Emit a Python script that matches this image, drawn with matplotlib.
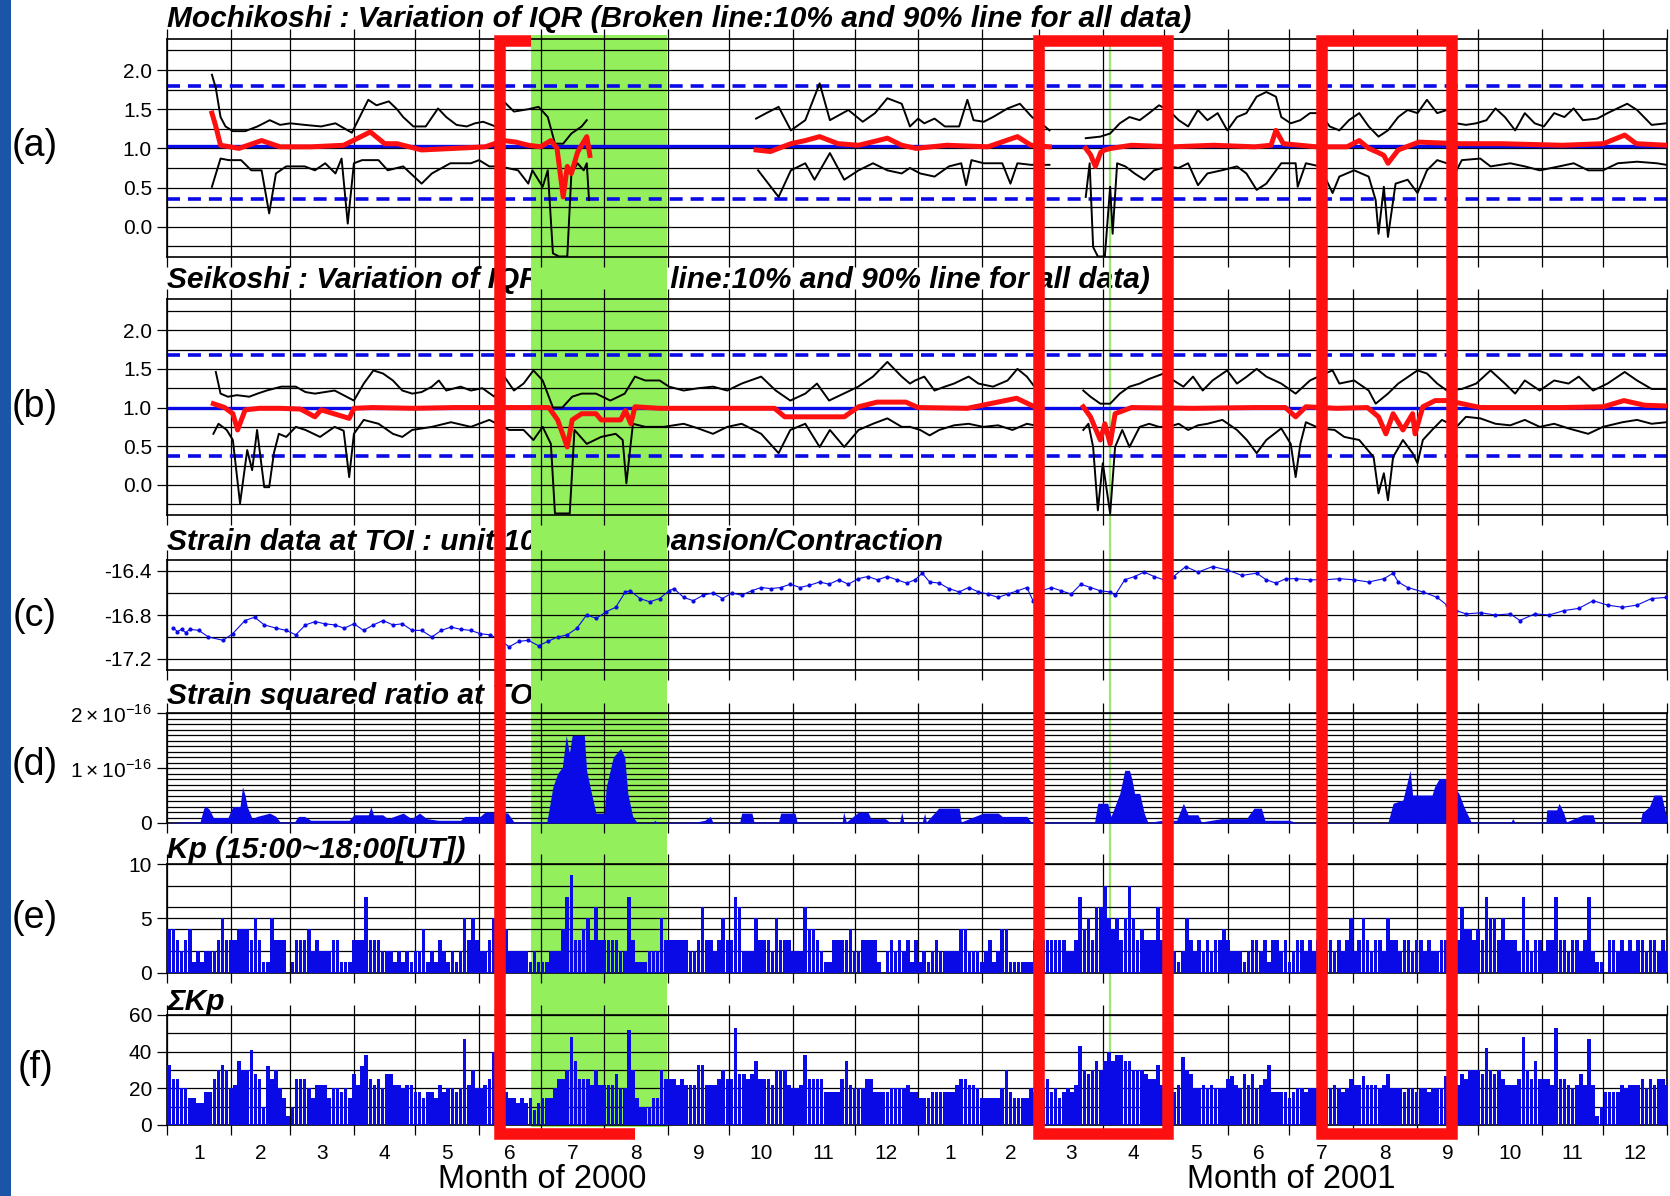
import numpy as np
import pandas as pd
import matplotlib
matplotlib.use("Agg")
import matplotlib.pyplot as plt
from matplotlib import transforms
from matplotlib.patches import Rectangle
from matplotlib.lines import Line2D

plt.rcParams["font.family"] = ["Liberation Sans", "DejaVu Sans"]
plt.rcParams["mathtext.fontset"] = "custom"
plt.rcParams["mathtext.rm"] = "Liberation Sans"

NAN = (np.nan, np.nan)

# ---- data: (day since 2000-01-01, value) ----
A_UPPER = [(21.8, 1.94), (23.7, 1.77), (26, 1.40), (28.4, 1.28), (32, 1.22), (38, 1.22), (44, 1.28), (50, 1.36),
           (55, 1.30), (60, 1.32), (67, 1.30), (75, 1.28), (82, 1.32), (90, 1.20), (98, 1.62), (102, 1.55),
           (108, 1.60), (112, 1.50), (115, 1.40), (120, 1.28), (126, 1.28), (132, 1.51), (136, 1.40), (141, 1.30),
           (146, 1.28), (150, 1.32), (154, 1.34), (160, 1.28), (164, 1.60), (169, 1.47), (176, 1.50), (181, 1.53),
           (185.5, 1.40), (189, 1.06), (193, 1.06), (197, 1.19), (202, 1.28), (204.5, 1.36), NAN,
           (287, 1.38), (292, 1.45), (298, 1.53), (304, 1.23), (311, 1.36), (318, 1.83), (323, 1.36), (332, 1.49),
           (339, 1.34), (345, 1.45), (351, 1.64), (358, 1.57), (362, 1.28), (366, 1.38), (369, 1.32), (374, 1.38),
           (379, 1.28), (386, 1.28), (390, 1.62), (393, 1.36), (398, 1.34), (402.5, 1.40), (409.6, 1.51),
           (415.6, 1.57), (421.5, 1.40), (426, 1.32), (430, 1.23), NAN,
           (447.7, 1.13), (454.8, 1.15), (459.6, 1.19), (464.3, 1.32), (469, 1.40), (474, 1.36), (478.6, 1.45),
           (483.4, 1.55), (488, 1.49), (493, 1.36), (497.6, 1.28), (502.4, 1.49), (507, 1.36), (512, 1.45),
           (516.7, 1.23), (521.4, 1.40), (526, 1.45), (531, 1.66), (535.7, 1.72), (540.4, 1.66), (543, 1.40),
           (547.6, 1.32), (552.3, 1.36), (557, 1.45), (561.8, 1.45), (566.6, 1.28), (571.3, 1.23), (576, 1.36),
           (581, 1.45), (585.6, 1.28), (590.4, 1.15), (595, 1.23), (600, 1.40), (604.6, 1.49), (609.4, 1.45),
           (614, 1.62), (619, 1.45), (623.7, 1.49), (628.4, 1.32), (633, 1.30), (638, 1.32), (643, 1.36),
           (647.4, 1.51), (652, 1.40), (657, 1.23), (661.7, 1.45), (666.5, 1.32), (671, 1.28), (676, 1.45),
           (681, 1.40), (685.5, 1.51), (690, 1.36), (697, 1.38), (702, 1.45), (711.6, 1.57), (716.4, 1.49),
           (723.5, 1.30), (730.7, 1.32)]
A_MID = [(21.8, 1.45), (23.5, 1.30), (26, 1.04), (35, 1.00), (46, 1.10), (55, 1.02), (70, 1.02), (86, 1.04),
         (99, 1.21), (106, 1.06), (112, 1.06), (124, 0.98), (140, 1.00), (155, 1.02), (164, 1.10), (170, 1.08),
         (176, 1.04), (182, 1.02), (187, 1.10), (190, 1.00), (193, 0.38), (195, 0.77), (197, 0.68), (200, 0.95),
         (202, 1.04), (204.5, 1.15), (206, 0.91), NAN,
         (287, 0.98), (294, 0.96), (304, 1.06), (311, 1.10), (318, 1.15), (327, 1.06), (337, 1.04), (351, 1.13),
         (358, 1.04), (365, 1.00), (380, 1.04), (400, 1.02), (414.4, 1.15), (421, 1.04), (430, 1.02), NAN,
         (447.7, 1.00), (450, 0.92), (452.4, 0.77), (455, 0.95), (457, 0.98), (460, 1.00), (470, 1.04), (490, 1.02),
         (510, 1.04), (530, 1.02), (538, 1.04), (540.4, 1.23), (544, 1.06), (560, 1.02), (575, 1.02), (581, 1.10),
         (585.6, 1.00), (590, 0.95), (593, 0.91), (595, 0.81), (600, 0.98), (610, 1.08), (630, 1.06), (650, 1.06),
         (680, 1.04), (700, 1.06), (710.4, 1.17), (716, 1.06), (730.7, 1.04)]
A_LOWER = [(21.8, 0.51), (26, 0.87), (30, 0.85), (36, 0.85), (41, 0.72), (46, 0.72), (49.7, 0.17), (53, 0.68),
           (58, 0.77), (63, 0.77), (67, 0.77), (72, 0.72), (77, 0.81), (82, 0.68), (85, 0.87), (88, 0.04),
           (91, 0.81), (95, 0.85), (100, 0.85), (103, 0.85), (107.5, 0.72), (115, 0.77), (124, 0.55), (129, 0.68),
           (138, 0.81), (148, 0.81), (152, 0.85), (157, 0.77), (162, 0.77), (171, 0.72), (176, 0.55), (178, 0.72),
           (183, 0.51), (185.5, 0.72), (188, -0.34), (191, -0.38), (195, -0.38), (197, 0.68), (200, 0.81),
           (203, 0.72), (204.5, 0.81), (205.6, 0.34), NAN,
           (288, 0.72), (293, 0.55), (298, 0.38), (304, 0.72), (311, 0.81), (315.5, 0.60), (323, 0.94), (330, 0.60),
           (337, 0.72), (344, 0.81), (351, 0.72), (358, 0.68), (362, 0.75), (367, 0.68), (374, 0.64), (381, 0.77),
           (387, 0.81), (389.4, 0.53), (392, 0.85), (398, 0.81), (407, 0.81), (411, 0.55), (414.4, 0.81),
           (421, 0.79), (430, 0.79), NAN,
           (447.7, 0.38), (449.6, 0.81), (451.3, -0.26), (453.6, -0.38), (457, -0.38), (459.6, 0.51), (460.8, -0.09),
           (463, 0.81), (467, 0.77), (471.5, 0.68), (476.2, 0.60), (481, 0.72), (488, 0.77), (493, 0.75),
           (497.6, 0.81), (502.4, 0.53), (507, 0.68), (514, 0.72), (521.4, 0.77), (526, 0.68), (531, 0.47),
           (535.7, 0.55), (543, 0.81), (550, 0.81), (551, 0.51), (555, 0.81), (561.8, 0.77), (568, 0.43),
           (571.3, 0.64), (578.5, 0.72), (585.6, 0.64), (589, 0.34), (590.4, -0.09), (593, 0.51), (595, -0.13),
           (598.7, 0.55), (604.6, 0.60), (609.4, 0.43), (614, 0.72), (619, 0.85), (623.7, 0.81), (628.4, 0.72),
           (631, 0.85), (640, 0.87), (645, 0.77), (654.6, 0.81), (661.7, 0.77), (669, 0.72), (678.4, 0.77),
           (685.5, 0.81), (692.6, 0.72), (699.8, 0.72), (707, 0.81), (716.4, 0.83), (726, 0.81), (730.7, 0.79)]
A_P90, A_P10, A_MEAN = 1.80, 0.35, 1.03

B_UPPER = [(23.7, 1.46), (26, 1.18), (29.6, 1.14), (34, 1.16), (40, 1.14), (44, 1.18), (48.5, 1.22), (55.6, 1.27),
           (62.7, 1.27), (67.4, 1.20), (72, 1.18), (81.6, 1.22), (91, 1.09), (95.8, 1.31), (100.5, 1.48),
           (105.2, 1.44), (110, 1.35), (114.6, 1.22), (119.4, 1.18), (124, 1.20), (129, 1.27), (132.4, 1.35),
           (136, 1.22), (143, 1.27), (148, 1.22), (153.6, 1.25), (159.5, 1.14), (164.3, 1.40), (169, 1.22),
           (173.7, 1.31), (178.5, 1.48), (183, 1.35), (188, 1.00), (192.6, 1.00), (197.4, 1.14), (202, 1.18),
           (209, 1.18), (216, 1.09), (223, 1.18), (228, 1.40), (233, 1.35), (240, 1.35), (244.6, 1.27),
           (251.7, 1.22), (258.8, 1.25), (266, 1.27), (273, 1.22), (280, 1.31), (289.5, 1.40), (296.6, 1.22),
           (303.7, 1.09), (311, 1.18), (316.7, 1.31), (322.6, 1.09), (329.7, 1.18), (336.8, 1.27), (344, 1.40),
           (351, 1.59), (358, 1.40), (362, 1.31), (364.5, 1.35), (369, 1.40), (374, 1.22), (379, 1.27),
           (383.5, 1.31), (390.6, 1.40), (395.4, 1.31), (402.5, 1.27), (409.6, 1.35), (414.4, 1.50), (419, 1.40),
           (422.7, 1.27), NAN,
           (446.5, 1.22), (450, 1.14), (454.8, 1.05), (459.6, 1.05), (464.3, 1.18), (469, 1.27), (474, 1.31),
           (478.6, 1.37), (485.7, 1.44), (490.5, 1.35), (495.3, 1.27), (500, 1.40), (504.7, 1.22), (509.5, 1.35),
           (516.6, 1.48), (521.4, 1.31), (526.2, 1.40), (531, 1.50), (535.7, 1.40), (543, 1.31), (550, 1.18),
           (557, 1.35), (564.2, 1.44), (568, 1.48), (571.3, 1.31), (578.5, 1.35), (585.6, 1.22), (589, 1.05),
           (595, 1.18), (600, 1.31), (609.4, 1.48), (614, 1.44), (619, 1.31), (623.7, 1.22), (631, 1.24),
           (638, 1.31), (645, 1.48), (652, 1.31), (657, 1.18), (661.7, 1.35), (669, 1.22), (676, 1.35),
           (683, 1.31), (688, 1.40), (695, 1.22), (702, 1.31), (710.4, 1.46), (716.4, 1.35), (723.5, 1.24),
           (730.7, 1.24)]
B_MID = [(22.5, 1.05), (28, 1.00), (32, 0.92), (34.3, 0.71), (38, 0.97), (45, 0.99), (55, 0.99), (65, 0.98),
         (72, 0.88), (75, 0.97), (88.7, 0.86), (91, 0.99), (100, 1.00), (120, 0.99), (140, 1.00), (160, 1.00),
         (180, 1.00), (186, 1.00), (190.3, 0.84), (195, 0.49), (197.4, 0.84), (202, 0.92), (209, 0.92),
         (211.5, 0.84), (221, 0.84), (223.3, 0.96), (226, 0.79), (228, 1.01), (240, 0.99), (260, 0.99),
         (280, 0.99), (296, 0.99), (301, 0.88), (315, 0.88), (330, 0.88), (337, 1.01), (346, 1.07), (360, 1.07),
         (366, 1.00), (390, 0.99), (414, 1.12), (422.7, 1.01), NAN,
         (446.5, 1.01), (450, 0.88), (454.8, 0.58), (457, 0.79), (459.6, 0.53), (462, 0.92), (470, 1.00),
         (500, 0.99), (530, 1.00), (545, 1.00), (550, 0.88), (555, 1.01), (570, 0.99), (585, 1.00), (590.4, 0.88),
         (594, 0.66), (597.5, 0.92), (602.3, 0.71), (607, 0.92), (608.2, 0.66), (612, 1.01), (618, 1.09),
         (624, 1.09), (640, 1.00), (680, 1.00), (700, 1.01), (710, 1.09), (720, 1.03), (730.7, 1.02)]
B_LOWER = [(22.5, 0.66), (25, 0.79), (29, 0.71), (32, 0.58), (35.5, -0.24), (39, 0.45), (41.4, 0.19), (43.8, 0.71),
           (47.3, -0.03), (49.7, -0.03), (52, 0.41), (54.4, 0.66), (58, 0.62), (62.7, 0.75), (67.4, 0.71),
           (74.5, 0.62), (81.6, 0.75), (86, 0.70), (88.7, 0.10), (91, 0.66), (95.8, 0.84), (103, 0.79), (110, 0.66),
           (114.6, 0.62), (119.4, 0.71), (129, 0.75), (138.3, 0.81), (148, 0.75), (157, 0.84), (166.6, 0.71),
           (173.7, 0.71), (178.5, 0.58), (183, 0.75), (187, 0.53), (189, -0.37), (196.2, -0.37), (198.5, 0.71),
           (204.5, 0.53), (211.5, 0.62), (218.6, 0.66), (222, 0.58), (223.8, 0.02), (227, 0.79), (233, 0.75),
           (242, 0.75), (251.7, 0.79), (258.8, 0.73), (266, 0.66), (273, 0.75), (280, 0.79), (289.5, 0.66),
           (298, 0.41), (303.7, 0.71), (311, 0.79), (318, 0.49), (323, 0.71), (330, 0.49), (337, 0.71), (344, 0.79),
           (351, 0.86), (358, 0.75), (362, 0.75), (367, 0.71), (371.6, 0.64), (376.3, 0.71), (383.5, 0.77),
           (390.6, 0.79), (397.7, 0.75), (405, 0.77), (412, 0.71), (419, 0.79), (422.7, 0.77), NAN,
           (446.5, 0.71), (449, 0.79), (451.3, 0.49), (453.6, -0.33), (456, 0.28), (459.6, -0.37), (462, 0.49),
           (465.5, 0.71), (469, 0.49), (474, 0.75), (478.6, 0.79), (483.4, 0.75), (488, 0.75), (493, 0.79),
           (497.6, 0.71), (502.4, 0.77), (507, 0.79), (514.3, 0.84), (521.4, 0.71), (526.2, 0.58), (531, 0.41),
           (535.7, 0.58), (543, 0.73), (547.6, 0.53), (550, 0.10), (552.3, 0.53), (555, 0.81), (561.8, 0.73),
           (569, 0.71), (573.7, 0.62), (581, 0.58), (588, 0.36), (590.4, -0.11), (593, 0.15), (595, -0.20),
           (597.5, 0.36), (602.3, 0.58), (607, 0.41), (609.4, 0.28), (612, 0.58), (616.5, 0.71), (621.3, 0.84),
           (628.4, 0.75), (633, 0.88), (640, 0.86), (647.4, 0.79), (654.6, 0.77), (661.7, 0.84), (669, 0.75),
           (676, 0.79), (683, 0.73), (692.6, 0.66), (699.8, 0.75), (709.3, 0.81), (716.4, 0.84), (723.5, 0.79),
           (730.7, 0.81)]
B_P90, B_P10, B_MEAN = 1.68, 0.37, 1.00

STRAIN = [(3, -16.92), (5, -16.95), (7, -16.93), (9, -16.96), (11, -16.93), (15.4, -16.94), (20.1, -17.0),
          (27.2, -17.03), (31.9, -16.97), (37.9, -16.85), (42.6, -16.82), (47.3, -16.89), (53.2, -16.92),
          (58, -16.94), (62.7, -16.98), (67.4, -16.89), (72.1, -16.86), (76.8, -16.88), (81.6, -16.89),
          (86.3, -16.92), (91, -16.88), (95.7, -16.94), (100.5, -16.89), (105.2, -16.85), (110, -16.89),
          (114.6, -16.88), (119.4, -16.94), (124, -16.94), (129, -17.0), (133.6, -16.94), (138.3, -16.91),
          (143, -16.93), (148, -16.94), (152.5, -16.97), (157.2, -16.98), (162, -17.02), (166.6, -17.09),
          (171.4, -17.04), (176, -17.03), (181, -17.08), (185.5, -17.04), (190.3, -17.0), (195, -16.98),
          (199.7, -16.92), (204.4, -16.8), (209.2, -16.83), (214, -16.77), (218.6, -16.73), (223.3, -16.59),
          (225.7, -16.58), (230.4, -16.65), (235.2, -16.68), (240, -16.65), (244.6, -16.58), (247, -16.56),
          (251.7, -16.64), (256.4, -16.67), (261.2, -16.62), (266, -16.6), (270.6, -16.65), (275.3, -16.6),
          (280, -16.62), (284.8, -16.58), (289.5, -16.55), (294.2, -16.56), (299, -16.55), (303.7, -16.52),
          (308.4, -16.55), (313, -16.53), (318, -16.5), (322.6, -16.52), (327.3, -16.48), (332, -16.52),
          (336.8, -16.47), (341.5, -16.45), (346.2, -16.48), (351, -16.45), (355.7, -16.48), (360.4, -16.51),
          (364.5, -16.48), (368, -16.42), (371.6, -16.5), (376.3, -16.51), (381, -16.56), (386, -16.59),
          (390.6, -16.55), (395.4, -16.59), (400, -16.61), (405, -16.64), (409.6, -16.61), (414.4, -16.58),
          (419, -16.55), (422, -16.67), (426.3, -16.58), (431, -16.55), (435.8, -16.58), (440.6, -16.61),
          (445.3, -16.52), (450, -16.55), (454.8, -16.58), (459.6, -16.59), (462, -16.62), (466.7, -16.48),
          (471.5, -16.45), (476.2, -16.41), (481, -16.45), (485.7, -16.48), (490.5, -16.45), (496.4, -16.36),
          (502.4, -16.41), (509.5, -16.36), (516.6, -16.39), (523.8, -16.44), (531, -16.42), (535.7, -16.48),
          (540.4, -16.51), (545.2, -16.47), (550, -16.47), (557, -16.48), (564.2, -16.48), (571.3, -16.47),
          (578.5, -16.48), (585.6, -16.5), (593, -16.47), (597.5, -16.42), (600, -16.5), (604.6, -16.55),
          (612, -16.59), (619, -16.64), (623.7, -16.71), (628.4, -16.76), (633, -16.79), (640.3, -16.78),
          (647.4, -16.8), (654.6, -16.79), (659.3, -16.85), (666.5, -16.79), (673.6, -16.8), (680.7, -16.76),
          (688, -16.74), (695, -16.67), (702, -16.71), (709.3, -16.73), (716.4, -16.71), (723.5, -16.65),
          (730.7, -16.64)]

# strain squared ratio, unit 1e-16
STRAIN_SQ = [(0, 0), (8, 0.02), (16, 0.02), (17.8, 0.27), (19, 0.3), (20.5, 0.25), (22.5, 0.1), (29.6, 0.1),
             (32, 0.3), (35.5, 0.3), (36.7, 0.66), (38, 0.5), (39, 0.3), (41.4, 0.08), (43.8, 0.12), (50, 0.18),
             (53, 0.12), (55, 0.02), (62, 0.02), (64, 0.12), (67, 0.12), (70, 0.05), (88.7, 0.05), (91, 0.15),
             (98, 0.15), (99.3, 0.3), (100.5, 0.15), (105, 0.15), (107.6, 0.08), (115, 0.18), (119, 0.08),
             (123, 0.18), (126.5, 0.08), (132, 0.05), (143, 0.05), (145, 0.12), (152.5, 0.12), (155, 0.2),
             (159.5, 0.2), (160.7, 0.39), (162, 0.2), (166, 0.18), (169, 0.02), (185, 0.02), (185.5, 0.12),
             (188, 0.66), (190.3, 0.9), (192.6, 1.02), (194.5, 1.6), (196, 1.27), (197.4, 1.6), (203.3, 1.6),
             (204.4, 0.96), (206.8, 0.54), (209, 0.18), (213, 0.18), (214, 0.66), (217.4, 1.2), (221, 1.36),
             (223, 1.2), (224.5, 0.54), (226.9, 0.12), (229, 0.01), (237, 0.01), (237.5, 0.05), (239, 0.01),
             (258, 0.02), (262, 0.05), (264.7, 0.12), (266, 0.01), (279, 0.01), (280, 0.18), (285, 0.18),
             (286, 0.02), (298, 0.02), (299, 0.18), (306, 0.18), (307, 0.02), (329, 0.02), (329.7, 0.2), (331, 0.02),
             (337, 0.2), (341.5, 0.2), (343, 0.08), (350, 0.08), (352, 0.02), (357, 0.02), (358, 0.2), (359, 0.02),
             (368, 0.02), (369.2, 0.18), (370, 0.02), (376, 0.27), (386, 0.27), (387, 0.02), (397.7, 0.18),
             (405, 0.18), (407, 0.12), (419, 0.12), (421, 0.02), (452, 0.02), (453.6, 0.36), (458.4, 0.36),
             (460, 0.12), (464.3, 0.54), (466.7, 0.96), (469, 0.96), (470.3, 0.78), (471.5, 0.54), (474, 0.54),
             (476.2, 0.18), (478, 0.01), (485, 0.05), (492, 0.05), (495.3, 0.36), (497.6, 0.15), (502.4, 0.15),
             (504, 0.02), (514, 0.08), (526, 0.08), (529.7, 0.27), (533.3, 0.27), (535, 0.05), (547, 0.05),
             (550, 0.01), (595, 0.01), (597.5, 0.36), (602.3, 0.42), (605.8, 0.96), (607, 0.51), (616.5, 0.51),
             (617.7, 0.66), (620, 0.81), (624, 0.81), (625, 0.96), (627.2, 0.66), (629.6, 0.54), (632, 0.3),
             (635.5, 0.02), (655, 0.02), (655.8, 0.08), (657, 0.01), (672, 0.02), (672.4, 0.24), (677.2, 0.24),
             (678.4, 0.36), (680.7, 0.18), (682, 0.02), (690.2, 0.15), (695, 0.15), (696, 0.01), (718, 0.01),
             (718.8, 0.18), (722.4, 0.3), (724.7, 0.51), (728.3, 0.51), (730.7, 0.12)]

# Kp and sum of Kp, two-day bins from 2000-01-01
KP = [4, 4, 3, 2, 3, 4, 1, 2, 1, 2, 2, 2, 3, 5, 3, 3,
      3, 4, 4, 4, 3, 5, 3, 1, 1, 5, 3, 3, 3, 0, 1,
      3, 3, 3, 4, 2, 3, 2, 2, 2, 3, 3, 1, 1, 1, 3,
      3, 3, 7, 3, 3, 3, 2, 2, 2, 1, 2, 1, 2, 1, 2,
      2, 4, 1, 2, 1, 3, 2, 1, 2, 1, 2, 5, 3, 5, 3,
      2, 2, 3, 5, 6, 5, 4, 2, 2, 2, 2, 2, 1, 2, 1,
      1, 1, 2, 2, 2, 4, 7, 9, 3, 3, 4, 5, 3, 6, 3, 3,
      3, 3, 3, 2, 2, 7, 3, 1, 1, 1, 2, 2, 2, 5, 3,
      3, 3, 3, 3, 3, 2, 2, 3, 6, 3, 3, 2, 3, 5, 3,
      3, 7, 6, 2, 2, 2, 5, 3, 3, 3, 2, 5, 3, 3, 3, 2,
      2, 2, 6, 4, 4, 3, 2, 1, 1, 3, 3, 3, 3, 4, 2,
      2, 3, 3, 3, 3, 1, 0, 2, 3, 2, 3, 2, 3, 1, 3,
      1, 2, 1, 2, 3, 2, 2, 2, 2, 2, 4, 4, 2, 2, 2, 1,
      2, 3, 1, 2, 4, 4, 1, 1, 1, 1, 1, 1, 3, 1,
      3, 3, 3, 3, 3, 3, 2, 2, 3, 7, 4, 5, 3, 6, 6, 8,
      5, 4, 5, 3, 5, 8, 5, 3, 4, 3, 3, 3, 6, 3, 1,
      2, 2, 1, 2, 5, 3, 2, 3, 2, 3, 2, 3, 3, 4, 3,
      2, 2, 2, 1, 2, 3, 3, 2, 3, 1, 3, 3, 2, 3, 1, 2,
      3, 3, 2, 3, 2, 3, 4, 2, 3, 2, 3, 2, 3, 5, 2,
      3, 5, 3, 2, 3, 3, 2, 5, 3, 3, 2, 3, 3, 2, 3,
      3, 2, 3, 2, 2, 3, 3, 4, 4, 3, 6, 4, 4, 3, 4,
      3, 7, 5, 5, 3, 5, 3, 3, 3, 2, 7, 3, 2, 3, 3,
      2, 3, 3, 7, 3, 3, 2, 3, 3, 2, 3, 7, 2, 1, 1,
      0, 3, 3, 2, 3, 2, 3, 2, 3, 3, 2, 3, 3, 2, 3, 2]
SUM_KP = [33, 25, 25, 20, 20, 15, 15, 12, 12, 18, 18, 25, 30, 33, 30, 20,
          22, 35, 30, 30, 41, 28, 25, 10, 32, 25, 30, 20, 15, 5, 10,
          25, 25, 25, 20, 15, 22, 22, 22, 15, 20, 20, 18, 20, 15, 28,
          22, 32, 38, 25, 22, 25, 20, 28, 28, 22, 22, 20, 22, 22, 18,
          18, 15, 18, 18, 15, 22, 18, 20, 20, 18, 20, 47, 22, 30, 20,
          20, 22, 25, 40, 28, 25, 18, 15, 15, 12, 15, 12, 15, 8, 12,
          15, 15, 15, 20, 25, 25, 30, 48, 35, 25, 25, 25, 22, 30, 22, 22,
          22, 22, 28, 20, 20, 52, 30, 15, 10, 10, 10, 15, 15, 30, 25,
          25, 25, 22, 25, 22, 22, 22, 33, 33, 22, 22, 22, 25, 30, 25,
          25, 53, 28, 28, 25, 28, 35, 25, 25, 25, 22, 30, 30, 30, 22, 20,
          20, 22, 38, 25, 25, 25, 25, 18, 18, 18, 18, 25, 35, 22, 20,
          20, 20, 25, 25, 18, 18, 18, 18, 20, 20, 20, 20, 22, 18, 18,
          15, 15, 15, 18, 18, 18, 18, 18, 18, 22, 25, 25, 22, 22, 20, 15,
          15, 15, 15, 15, 20, 30, 18, 15, 15, 15, 15, 20, 18, 18,
          20, 25, 18, 20, 15, 18, 20, 18, 22, 43, 30, 28, 30, 35, 30, 35,
          40, 35, 38, 38, 35, 35, 30, 30, 30, 28, 25, 25, 33, 22, 15,
          15, 18, 22, 37, 30, 28, 20, 20, 22, 20, 22, 20, 20, 20, 25,
          27, 22, 20, 28, 22, 28, 20, 22, 25, 33, 18, 18, 18, 18, 15, 18,
          20, 20, 18, 20, 20, 20, 22, 20, 20, 22, 20, 18, 20, 25, 22,
          22, 27, 22, 22, 22, 20, 22, 28, 20, 20, 20, 18, 20, 20, 18,
          20, 20, 18, 20, 20, 20, 27, 22, 20, 22, 28, 25, 30, 30, 30,
          28, 42, 30, 28, 30, 25, 22, 22, 22, 25, 48, 30, 25, 35, 25,
          25, 25, 22, 53, 25, 25, 22, 20, 22, 28, 22, 47, 22, 5, 10,
          18, 18, 18, 18, 22, 20, 22, 22, 22, 25, 20, 25, 22, 25, 25, 22]

MONTH_LABELS = [str(m) for m in range(1, 13)] * 2
YEAR_LABELS = ["Month of 2000", "Month of 2001"]

# highlighted periods (days)
RED_BOX_1 = (162, 228)       # right edge hidden under the green band
RED_BOXES = [(425, 488), (563, 626)]
GREEN_BAND = (177.3, 243.4)
GREEN_LINE = 459.7

BLUE = "#0a0ae6"
RED = "#ff1010"
GREEN = "#93f05c"

W, H = 1670, 1196
fig = plt.figure(figsize=(W / 100, H / 100), dpi=100)
fig.patch.set_facecolor("white")

L, AW = 167.2 / W, 1499.8 / W
start = pd.Timestamp("2000-01-01")
bounds = np.array((pd.date_range("2000-01-01", "2002-01-01", freq="MS") - start).days, dtype=float)
centers = (bounds[:-1] + bounds[1:]) / 2


def make_ax(top, bot, ylim, major, grid):
    ax = fig.add_axes([L, 1 - bot / H, AW, (bot - top) / H])
    ax.set_facecolor("none")
    ax.set_zorder(3)
    ax.set_xlim(0, 731)
    ax.set_ylim(*ylim)
    ax.set_xticks(bounds)
    ax.tick_params(axis="x", which="major", direction="out", top=True, bottom=True,
                   length=7, width=0.9, labelbottom=False)
    ax.set_yticks(major)
    ax.set_yticks(grid, minor=True)
    ax.tick_params(axis="y", which="major", direction="out", length=7, width=0.9, labelsize=15, pad=4)
    ax.tick_params(axis="y", which="minor", length=0)
    ax.grid(axis="x", which="major", color="black", lw=0.9)
    ax.grid(axis="y", which="both", color="black", lw=0.9)
    for sp in ax.spines.values():
        sp.set_linewidth(1.2)
    return ax


def xy(pairs):
    arr = np.array(pairs, dtype=float)
    return arr[:, 0], arr[:, 1]


def iqr_panel(ax, upper, mid, lower, p90, p10, mean):
    ax.axhline(mean, color=BLUE, lw=2.4, zorder=2)
    for v in (p90, p10):
        ax.axhline(v, color=BLUE, lw=2.6, dashes=(3.6, 2.2), zorder=2)
    for s in (upper, lower):
        ax.plot(*xy(s), color="black", lw=1.4, zorder=3)
    ax.plot(*xy(mid), color=RED, lw=3.6, zorder=4)
    ax.set_yticklabels(["0.0", "0.5", "1.0", "1.5", "2.0"])


iqr_ticks = [0, 0.5, 1.0, 1.5, 2.0]
iqr_grid = np.arange(-0.25, 2.3, 0.25)

ax_a = make_ax(38.7, 256.5, (-0.38, 2.40), iqr_ticks, iqr_grid)
iqr_panel(ax_a, A_UPPER, A_MID, A_LOWER, A_P90, A_P10, A_MEAN)

ax_b = make_ax(299.3, 515.0, (-0.39, 2.40), iqr_ticks, iqr_grid)
iqr_panel(ax_b, B_UPPER, B_MID, B_LOWER, B_P90, B_P10, B_MEAN)

ax_c = make_ax(560, 670, (-17.30, -16.30), [-17.2, -16.8, -16.4], np.arange(-17.2, -16.3, 0.2))
ax_c.set_yticklabels(["-17.2", "-16.8", "-16.4"])
ax_c.plot(*xy(STRAIN), color=BLUE, lw=0.8, marker="o", ms=3, mec="none", zorder=3)

ax_d = make_ax(713.3, 823, (0, 2.0), [0, 1, 2], np.arange(0, 2.01, 0.1))
ax_d.set_yticklabels(["0", r"$1\times10^{-16}$", r"$2\times10^{-16}$"])
dx, dy = xy(STRAIN_SQ)
ax_d.fill_between(dx, 0, dy, color=BLUE, lw=0, zorder=3)

kp_x = np.arange(len(KP)) * 2 + 1
ax_e = make_ax(864, 972.7, (0, 10), [0, 5, 10], np.arange(0, 10.1, 2))
ax_e.bar(kp_x, KP, width=1.75, color=BLUE, lw=0, zorder=3)

skp_x = np.arange(len(SUM_KP)) * 2 + 1
ax_f = make_ax(1015, 1125, (0, 60), [0, 20, 40, 60], np.arange(0, 61, 10))
ax_f.bar(skp_x, SUM_KP, width=1.75, color=BLUE, lw=0, zorder=3)
ax_f.set_xticks(centers, minor=True)
ax_f.set_xticklabels(MONTH_LABELS, minor=True)
ax_f.tick_params(axis="x", which="minor", length=0, pad=14, labelsize=15, labelbottom=True)

# titles (under the green band)
tkw = dict(fontsize=21.5, fontweight="bold", style="italic", ha="left", va="center", zorder=1)
fig.text(L, 1 - 19 / H, "Mochikoshi : Variation of IQR (Broken line:10% and 90% line for all data)", **tkw)
fig.text(L, 1 - 280 / H, "Seikoshi : Variation of IQR (Broken line:10% and 90% line for all data)", **tkw)
fig.text(L, 1 - 542 / H, "Strain data at TOI : unit 10", **tkw)
fig.text(943.6 / W, 1 - 542 / H, "Expansion/Contraction", **{**tkw, "ha": "right"})
fig.text(L, 1 - 696 / H, "Strain squared ratio at TOI", **tkw)
fig.text(L, 1 - 850 / H, "Kp (15:00~18:00[UT])", **tkw)
fig.text(L, 1 - 1002 / H, "\u03a3Kp", **tkw)

for lab, yc in zip("abcdef", [146, 407, 615.6, 764.7, 918, 1068]):
    fig.text(35 / W, 1 - yc / H, f"({lab})", fontsize=27, ha="center", va="center")

# data-x / figure-y transform for the highlight boxes spanning all panels
bt = transforms.blended_transform_factory(ax_f.transData, fig.transFigure)
for name, xc in zip(YEAR_LABELS, [183, 548]):
    fig.text(xc, 1 - 1180 / H, name, transform=bt, fontsize=23.5, ha="center", va="center")

top_y, bot_y = 1 - 41 / H, 1 - 1133.5 / H
fig.add_artist(Rectangle((GREEN_BAND[0], 1 - 1127 / H), GREEN_BAND[1] - GREEN_BAND[0], (1127 - 35) / H,
                         transform=bt, color=GREEN, lw=0, zorder=2))
fig.add_artist(Line2D([GREEN_LINE, GREEN_LINE], [1 - 43 / H, 1 - 1125 / H], transform=bt,
                      color="#9ee870", lw=1.6, zorder=2))

RED_LW = 8.3
fig.add_artist(Line2D([GREEN_BAND[0], RED_BOX_1[0], RED_BOX_1[0], RED_BOX_1[1]],
                      [top_y, top_y, bot_y, bot_y], transform=bt, color=RED, lw=RED_LW,
                      solid_joinstyle="miter", solid_capstyle="butt", zorder=5))
for x0, x1 in RED_BOXES:
    fig.add_artist(Rectangle((x0, bot_y), x1 - x0, top_y - bot_y, transform=bt, fill=False,
                             edgecolor=RED, lw=RED_LW, joinstyle="miter", zorder=5))

# slide background strip at left edge
fig.add_artist(Rectangle((0, 0), 11 / W, 1, transform=fig.transFigure, color="#1a55a8", lw=0, zorder=6))

fig.savefig("out.png", dpi=100)
